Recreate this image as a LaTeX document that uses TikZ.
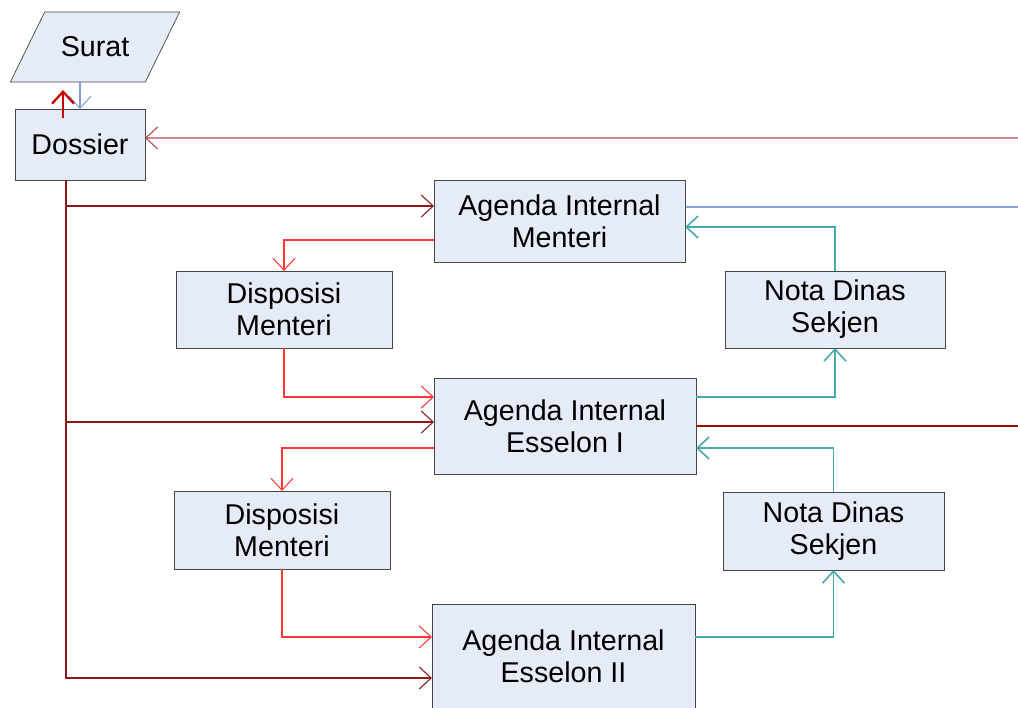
\documentclass[tikz,border=0pt]{standalone}
\usepackage{fontspec}
\setmainfont{Liberation Sans}
\usetikzlibrary{arrows.meta,shapes.geometric}
\usepackage{xcolor}
\definecolor{boxfill}{RGB}{230,236,247}
\definecolor{boxline}{RGB}{70,70,70}
\definecolor{trunkred}{RGB}{140,25,25}
\definecolor{flowred}{RGB}{255,55,55}
\definecolor{backred}{RGB}{200,0,0}
\definecolor{inred}{RGB}{180,70,70}
\definecolor{outred}{RGB}{165,10,10}
\definecolor{notateal}{RGB}{70,170,168}
\definecolor{inblue}{RGB}{125,160,220}
\definecolor{outblue}{RGB}{70,110,190}

\begin{document}
\begin{tikzpicture}[x=0.2mm,y=-0.2mm,>={Straight Barb[length=2.4mm,width=4.4mm]},
  box/.style={draw=boxline, fill=boxfill, align=center, inner sep=0pt, outer sep=0pt,
    font=\fontsize{16.3}{18.2}\selectfont},
  trunk/.style={draw=trunkred, line width=0.6pt},
  flow/.style={draw=flowred, line width=0.6pt},
  nota/.style={draw=notateal, line width=0.9pt}]
  \useasboundingbox (0,0) rectangle (1018,707);
  \node (surat) [box, trapezium, trapezium left angle=41, trapezium right angle=139,
    trapezium stretches=true, minimum width=34mm, minimum height=14mm] at (95,47) {Surat};
  \node (dossier) [box, minimum width=26mm, minimum height=14.2mm] at (80,144.5) {Dossier};
  \node (agm) [box, minimum width=50.2mm, minimum height=16.4mm] at (559.5,221) {Agenda Internal\\Menteri};
  \node (disp1) [box, minimum width=43.2mm, minimum height=15.4mm] at (284,309.5) {Disposisi\\Menteri};
  \node (nota1) [box, minimum width=44mm, minimum height=15.4mm] at (835,309.5) {Nota Dinas\\Sekjen};
  \node (ag1) [box, minimum width=52.4mm, minimum height=19.2mm] at (565,426) {Agenda Internal\\Esselon I};
  \node (disp2) [box, minimum width=43.2mm, minimum height=15.6mm] at (282,530) {Disposisi\\Menteri};
  \node (nota2) [box, minimum width=44.2mm, minimum height=15.6mm] at (833.5,531) {Nota Dinas\\Sekjen};
  \node (ag2) [box, minimum width=52.6mm, minimum height=20.8mm] at (563.5,656) {Agenda Internal\\Esselon II};
  \coordinate (back) at (63,118);
  \coordinate (fromright) at (1018,138);
  \coordinate (toright1) at (1018,207);
  \coordinate (toright2) at (1018,426);
  \draw[->, draw=inblue, line width=0.6pt] (surat.south -| dossier.north) -- (dossier.north);
  \draw[->, draw=backred, line width=1.3pt, shorten >=1.6mm] (back) -- (back |- surat.south);
  \draw[->, draw=inred, line width=0.6pt] (fromright) -- ([yshift=1.3mm]dossier.east);
  \draw[->, trunk] ([xshift=-2.8mm]dossier.south) |- ([yshift=3mm]agm.west);
  \draw[->, trunk] ([xshift=-2.8mm]dossier.south) |- ([yshift=0.8mm]ag1.west);
  \draw[->, trunk] ([xshift=-2.8mm]dossier.south) |- ([yshift=-4.4mm]ag2.west);
  \draw[->, flow] ([yshift=-3.8mm]agm.west) -| (disp1.north);
  \draw[->, flow] (disp1.south) |- ([yshift=5.8mm]ag1.west);
  \draw[->, flow] ([yshift=-4.4mm]ag1.west) -| (disp2.north);
  \draw[->, flow] (disp2.south) |- ([yshift=3.8mm]ag2.west);
  \draw[->, nota] ([yshift=5.8mm]ag1.east) -| (nota1.south);
  \draw[->, nota] (nota1.north) |- ([yshift=-1.2mm]agm.east);
  \draw[->, nota] ([yshift=3.8mm]ag2.east) -| (nota2.south);
  \draw[->, nota] (nota2.north) |- ([yshift=-4.4mm]ag1.east);
  \draw[draw=outblue, line width=0.6pt] ([yshift=2.8mm]agm.east) -- (toright1);
  \draw[draw=outred, line width=0.6pt] (ag1.east) -- (toright2);
\end{tikzpicture}
\end{document}
